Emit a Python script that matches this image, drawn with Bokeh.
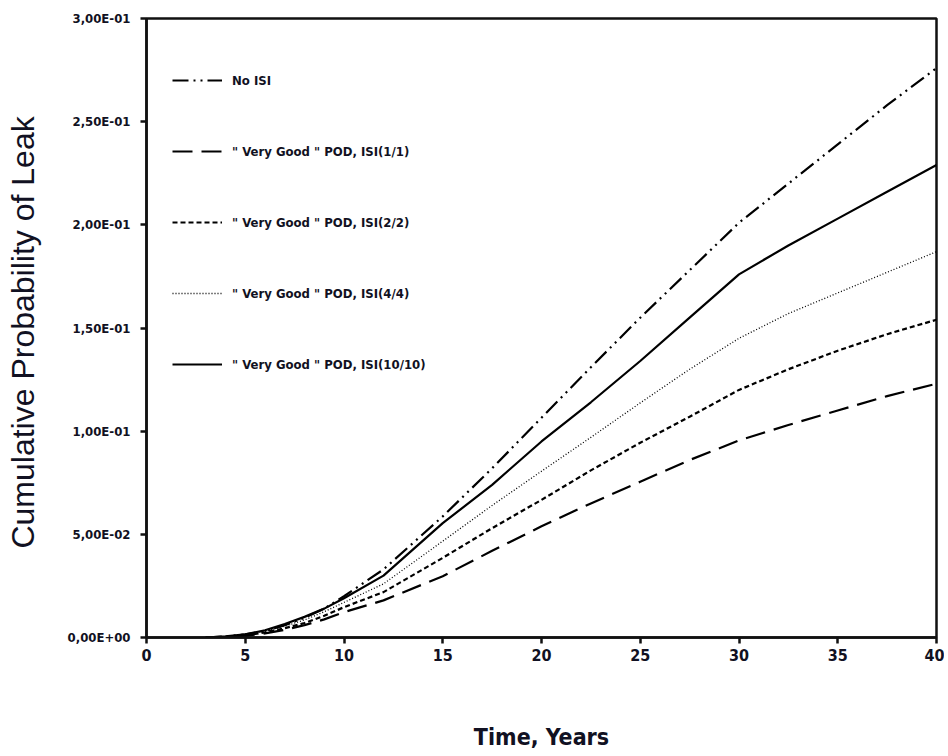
from bokeh.plotting import figure
from bokeh.models import CustomJSTickFormatter, FixedTicker, Range1d, Legend, LegendItem
from bokeh.embed import file_html
from bokeh.resources import INLINE

# ---- data ----
years = [3, 4, 5, 6, 7, 8, 9, 10, 12, 15, 17.5, 20, 22.5, 25, 27.5, 30, 32.5, 35, 37.5, 40]
no_isi = [0.0, 0.0005, 0.0015, 0.003, 0.006, 0.0095, 0.014, 0.020, 0.033, 0.0587, 0.082,
          0.1065, 0.131, 0.155, 0.178, 0.201, 0.220, 0.239, 0.258, 0.276]
isi_1_1 = [0.0, 0.0002, 0.0008, 0.002, 0.0037, 0.006, 0.0088, 0.0123, 0.018, 0.0297, 0.042,
           0.0539, 0.065, 0.0755, 0.086, 0.0955, 0.103, 0.110, 0.117, 0.123]
isi_2_2 = [0.0, 0.0003, 0.001, 0.0025, 0.0045, 0.007, 0.0105, 0.0147, 0.022, 0.0386, 0.053,
           0.0667, 0.081, 0.0944, 0.107, 0.120, 0.130, 0.139, 0.147, 0.154]
isi_4_4 = [0.0, 0.0004, 0.0012, 0.003, 0.0055, 0.0085, 0.0125, 0.017, 0.026, 0.0467, 0.064,
           0.0806, 0.097, 0.1137, 0.130, 0.145, 0.157, 0.167, 0.177, 0.187]
isi_10_10 = [0.0, 0.0005, 0.0015, 0.0035, 0.0065, 0.010, 0.014, 0.019, 0.030, 0.0554, 0.074,
             0.095, 0.114, 0.134, 0.155, 0.176, 0.190, 0.203, 0.216, 0.229]

labels = ['No ISI',
          '" Very Good " POD, ISI(1/1)',
          '" Very Good " POD, ISI(2/2)',
          '" Very Good " POD, ISI(4/4)',
          '" Very Good " POD, ISI(10/10)']
x_ticks = [0, 5, 10, 15, 20, 25, 30, 35, 40]
y_ticks = [0.0, 0.05, 0.10, 0.15, 0.20, 0.25, 0.30]

NARROW = "DejaVu Sans Condensed"

p = figure(width=944, height=756, output_backend="svg", toolbar_location=None,
           x_range=Range1d(0, 40), y_range=Range1d(0, 0.3),
           min_border_left=146, min_border_right=8, min_border_top=18, min_border_bottom=119)
p.background_fill_color = "white"
p.border_fill_color = "white"
p.xgrid.visible = False
p.ygrid.visible = False
p.outline_line_color = "#111111"
p.outline_line_width = 2.5
p.outline_line_alpha = 1.0

styles = [
    dict(line_dash="16 5 2 5 2 5", line_width=2.2),
    dict(line_dash="20 9", line_width=2.2),
    dict(line_dash="5 3", line_width=2.2),
    dict(line_dash="1 2", line_width=1.3),
    dict(line_dash="solid", line_width=2.2),
]
series = [no_isi, isi_1_1, isi_2_2, isi_4_4, isi_10_10]

items = []
for ys, lab, st in zip(series, labels, styles):
    r = p.line(years, ys, line_color="black", **st)
    items.append(LegendItem(label=lab, renderers=[r]))

legend = Legend(items=items, location=(26, 263), margin=0, padding=0,
                spacing=51, glyph_width=50, glyph_height=20, label_height=20,
                label_standoff=10, border_line_alpha=0, background_fill_alpha=0,
                label_text_font=NARROW, label_text_font_style="bold",
                label_text_font_size="13px", label_text_color="#111122")
p.add_layout(legend, "center")

# axes
for ax in (p.xaxis[0], p.yaxis[0]):
    ax.axis_line_width = 2.5
    ax.axis_line_color = "#111111"
    ax.major_tick_line_width = 2.5
    ax.major_tick_line_color = "#111111"
    ax.major_tick_out = 6
    ax.major_tick_in = 0
    ax.minor_tick_line_color = None
    ax.major_label_text_font = NARROW
    ax.major_label_text_font_style = "bold"
    ax.major_label_text_color = "#111122"

p.xaxis.ticker = FixedTicker(ticks=x_ticks)
p.yaxis.ticker = FixedTicker(ticks=y_ticks)
p.xaxis.major_label_text_font_size = "16px"
p.yaxis.major_label_text_font_size = "13px"
p.xaxis.major_label_standoff = 5
p.yaxis.major_label_standoff = 10

p.yaxis.formatter = CustomJSTickFormatter(code="""
    let s = tick.toExponential(2).replace('.', ',');
    s = s.replace(/e([+-])(\\d)$/, 'E$10$2').replace('e', 'E');
    return s;
""")

p.xaxis.axis_label = "Time, Years"
p.xaxis.axis_label_text_font = NARROW
p.xaxis.axis_label_text_font_style = "bold"
p.xaxis.axis_label_text_font_size = "23px"
p.xaxis.axis_label_text_color = "#111122"
p.xaxis.axis_label_standoff = 60

p.yaxis.axis_label = "Cumulative Probability  of Leak"
p.yaxis.axis_label_text_font = "Liberation Sans"
p.yaxis.axis_label_text_font_style = "normal"
p.yaxis.axis_label_text_font_size = "32px"
p.yaxis.axis_label_text_color = "#111122"
p.yaxis.axis_label_standoff = 24

open("out.html", "w").write(file_html(p, INLINE))
